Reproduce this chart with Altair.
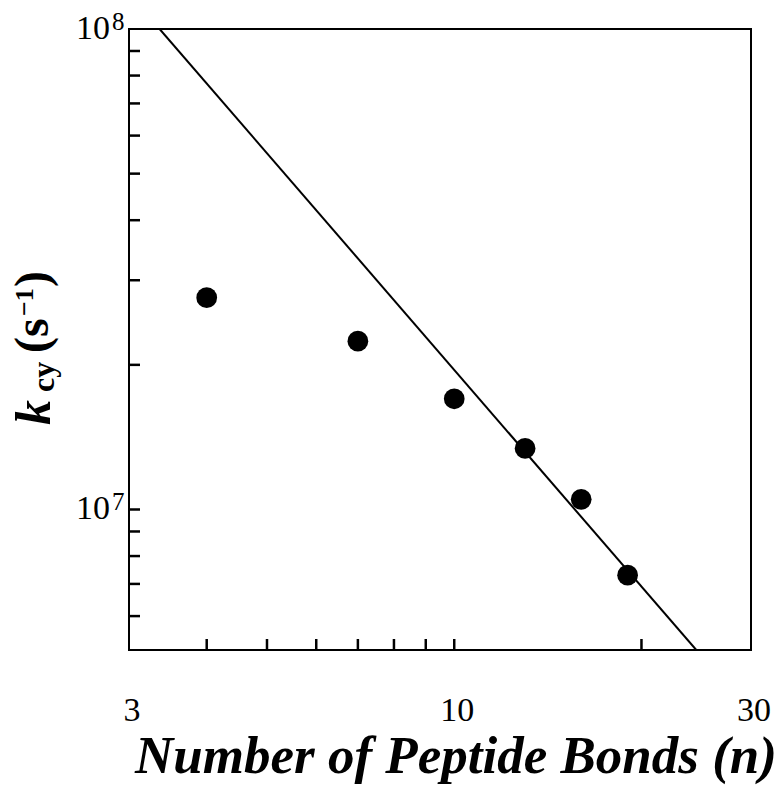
import altair as alt
import pandas as pd

# ---- data ----
n_bonds = [4, 7, 10, 13, 16, 19]
k_cy = [2.76e7, 2.24e7, 1.70e7, 1.34e7, 1.05e7, 7.3e6]

fit_n = [3.36, 24.5]
fit_k = [1.0e8, 5.1e6]

x_domain = [3, 30]
y_domain = [5.1e6, 1.0e8]

x_tick_values = [4, 5, 6, 7, 8, 9, 10, 20]
x_label_values = [3, 10, 30]
x_label_text = ["3", "10", "30"]
y_tick_values = [6e6, 7e6, 8e6, 9e6, 1e7, 2e7, 3e7, 4e7, 5e7, 6e7, 7e7, 8e7, 9e7]
y_label_values = [1e7, 1e8]
y_label_base = ["10", "10"]
y_label_exp = ["7", "8"]

x_title = "Number of Peptide Bonds (n)"

FONT = "Liberation Serif"
W, H = 622, 621

xs = alt.Scale(type="log", domain=x_domain, nice=False)
ys = alt.Scale(type="log", domain=y_domain, nice=False)

pts = pd.DataFrame({"n": n_bonds, "k": k_cy})
fit = pd.DataFrame({"n": fit_n, "k": fit_k})
xt = pd.DataFrame({"n": x_tick_values})
xl = pd.DataFrame({"n": x_label_values, "t": x_label_text})
yt = pd.DataFrame({"k": y_tick_values})
yl = pd.DataFrame({"k": y_label_values, "base": y_label_base, "exp": y_label_exp})

points = alt.Chart(pts).mark_circle(size=430, color="black", opacity=1).encode(
    x=alt.X("n:Q", scale=xs, axis=None),
    y=alt.Y("k:Q", scale=ys, axis=None),
)

fit_line = alt.Chart(fit).mark_line(color="black", strokeWidth=2, clip=True).encode(
    x=alt.X("n:Q", scale=xs, axis=None),
    y=alt.Y("k:Q", scale=ys, axis=None),
)

x_ticks = alt.Chart(xt).mark_rule(color="black", strokeWidth=2.5).encode(
    x=alt.X("n:Q", scale=xs, axis=None),
    y=alt.value(H), y2=alt.value(H - 11),
)

x_labels = alt.Chart(xl).mark_text(font=FONT, fontSize=34, align="center",
                                   baseline="alphabetic", color="black", dx=3).encode(
    x=alt.X("n:Q", scale=xs, axis=None), y=alt.value(692), text="t:N")

y_ticks = alt.Chart(yt).mark_rule(color="black", strokeWidth=2.5).encode(
    y=alt.Y("k:Q", scale=ys, axis=None),
    x=alt.value(0), x2=alt.value(11),
)

y_lab_base = alt.Chart(yl).mark_text(font=FONT, fontSize=34, align="right",
                                     baseline="middle", color="black").encode(
    y=alt.Y("k:Q", scale=ys, axis=None), x=alt.value(-19), text="base:N")

y_lab_exp = alt.Chart(yl).mark_text(font=FONT, fontSize=25, align="left",
                                    baseline="middle", color="black", dy=-7).encode(
    y=alt.Y("k:Q", scale=ys, axis=None), x=alt.value(-17), text="exp:N")

def txt(s, x, y, size, style="normal", weight="bold", angle=0, align="center",
        baseline="alphabetic"):
    return alt.Chart(pd.DataFrame({"t": [s]})).mark_text(
        font=FONT, fontSize=size, fontStyle=style, fontWeight=weight, angle=angle,
        align=align, baseline=baseline, color="black").encode(
        x=alt.value(x), y=alt.value(y), text="t:N")

xtitle = txt(x_title, 327, 744, 53, style="italic")

# y title pieces (rotated, reading bottom to top)
yt_k = txt("k", -79, 396, 50, style="italic", angle=270, align="left")
yt_cy = txt("cy", -75, 363, 32, angle=270, align="left")
yt_s = txt("(s", -81, 324, 48, angle=270, align="left")
yt_exp = txt("\u22121", -96, 287, 26, angle=270, align="left")
yt_close = txt(")", -81, 258, 48, angle=270, align="left")

chart = alt.layer(
    fit_line, points, x_ticks, y_ticks, x_labels, y_lab_base, y_lab_exp,
    xtitle, yt_k, yt_cy, yt_s, yt_exp, yt_close,
).properties(
    width=W, height=H,
    autosize=alt.AutoSizeParams(type="none"),
    padding={"left": 129, "top": 29, "right": 29, "bottom": 149},
    background="white",
).configure_view(stroke="black", strokeWidth=2)

chart.save("out.html", embed_options={"renderer": "svg", "actions": False})
